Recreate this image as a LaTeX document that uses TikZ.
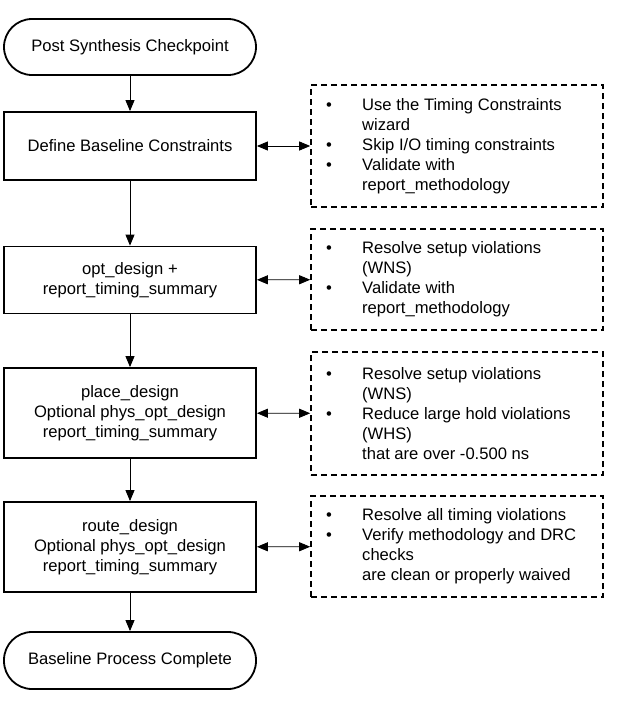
\documentclass[tikz,border=0pt]{standalone}
\usepackage{fontspec}
\setmainfont{Liberation Sans}
\usetikzlibrary{arrows.meta}
\begin{document}
\begin{tikzpicture}[x=1pt,y=-1pt,
  every node/.style={font=\fontsize{16.6}{20}\selectfont},
  term/.style={draw,line width=1.8pt,rounded corners=28pt,minimum width=252pt,align=center,inner sep=0pt},
  proc/.style={draw,line width=1.8pt,minimum width=252pt,align=center,inner sep=0pt},
  note/.style={draw,line width=1.6pt,dash pattern=on 6pt off 4pt,minimum width=292pt,inner sep=0pt},
  notetext/.style={anchor=west,align=left,inner sep=0pt},
  flow/.style={line width=0.9pt,-{Triangle[length=11pt,width=9pt]}},
  link/.style={line width=0.9pt,{Triangle[length=11pt,width=9pt]}-{Triangle[length=11pt,width=9pt]}}
]
\useasboundingbox[fill=white] (0,0) rectangle (634,705);
\newcommand{\bul}{\makebox[36pt][l]{\textbullet}}
\newcommand{\ind}{\hspace*{36pt}}

\node[term,minimum height=56pt] (t1) at (130,47) {Post Synthesis Checkpoint};
\node[proc,minimum height=68pt] (b1) at (130,146) {Define Baseline Constraints};
\node[proc,minimum height=67pt] (b2) at (130,280) {opt\_design +\\report\_timing\_summary};
\node[proc,minimum height=90pt] (b3) at (130,413) {place\_design\\Optional phys\_opt\_design\\report\_timing\_summary};
\node[proc,minimum height=90pt] (b4) at (130,547) {route\_design\\Optional phys\_opt\_design\\report\_timing\_summary};
\node[term,minimum height=57pt] (t2) at (130,660.5) {Baseline Process Complete};

\node[note,minimum height=122pt] (d1) at (457,146) {};
\node[note,minimum height=101pt] (d2) at (457,279.5) {};
\node[note,minimum height=123pt] (d3) at (457,413.5) {};
\node[note,minimum height=101pt] (d4) at (457,546.5) {};

\node[notetext] (d1t) at (326,146) {\bul Use the Timing Constraints\\\ind wizard\\\bul Skip I/O timing constraints\\\bul Validate with\\\ind report\_methodology};
\node[notetext] (d2t) at (326,279.5) {\bul Resolve setup violations\\\ind (WNS)\\\bul Validate with\\\ind report\_methodology};
\node[notetext] (d3t) at (326,413.5) {\bul Resolve setup violations\\\ind (WNS)\\\bul Reduce large hold violations\\\ind (WHS)\\\ind that are over -0.500 ns};
\node[notetext] (d4t) at (326,546.5) {\bul Resolve all timing violations\\\bul Verify methodology and DRC\\\ind checks\\\ind are clean or properly waived};

\draw[flow] (t1) -- (b1);
\draw[flow] (b1) -- (b2);
\draw[flow] (b2) -- (b3);
\draw[flow] (b3) -- (b4);
\draw[flow] (b4) -- (t2);

\draw[link] (b1) -- (d1);
\draw[link] (b2) -- (d2);
\draw[link] (b3) -- (d3);
\draw[link] (b4) -- (d4);
\end{tikzpicture}
\end{document}
